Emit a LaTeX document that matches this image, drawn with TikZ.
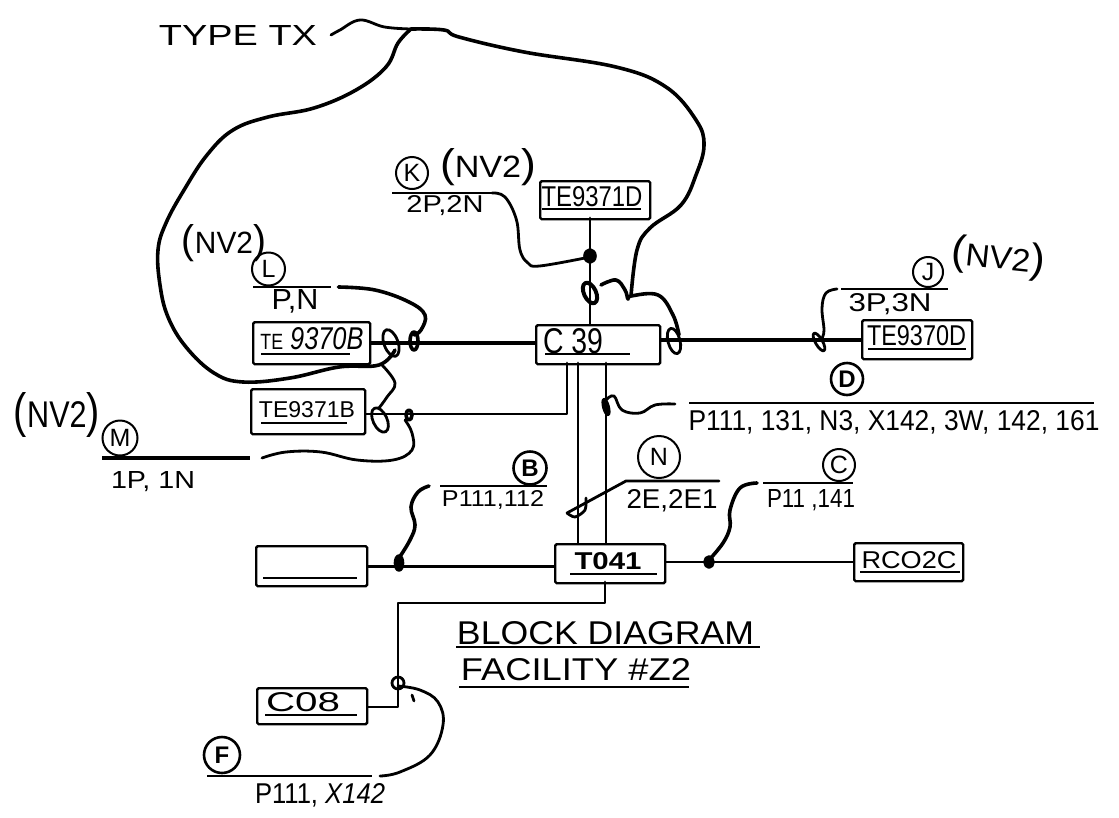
\documentclass[tikz,border=0pt]{standalone}
\usepackage{graphicx}
\usepackage{fontspec}
\setmainfont{Liberation Sans}
\newcommand{\fitlbl}[3]{\resizebox{#1pt}{#2pt}{\vphantom{H}#3}}
\newcommand{\nvtwo}{{\fontsize{13}{13}\selectfont(}NV2{\fontsize{13}{13}\selectfont)}}
\tikzset{
  x=1pt,y=-1pt,
  box/.style={draw=black,line width=2.4pt,rounded corners=1.5pt,inner sep=0pt,anchor=north west},
  lbl/.style={inner sep=0pt,text=black},
  circ/.style={draw=black,circle,line width=2pt,inner sep=0pt,minimum size=#1pt,font=\fontsize{25}{25}\selectfont},
  boldcirc/.style={circ=#1,line width=2.6pt,font=\bfseries\fontsize{24}{24}\selectfont},
  thick wire/.style={draw=black,line width=3.6pt,line cap=round,line join=round},
  wire/.style={draw=black,line width=2.8pt,line cap=round,line join=round},
  rule/.style={draw=black,line width=2.4pt},
  ul/.style={draw=black,line width=2.2pt},
  curve/.style={smooth,tension=0.65}
}
\begin{document}
\begin{tikzpicture}
\useasboundingbox (0,0) rectangle (1119,817);
% ---------- boxes
\node[box,minimum width=110pt,minimum height=38pt] (te71d) at (539,180) {};
\node[box,minimum width=124pt,minimum height=39pt] (c39) at (535,324) {};
\node[box,minimum width=110pt,minimum height=39pt] (te70d) at (861,319) {};
\node[box,minimum width=117pt,minimum height=42pt] (te70b) at (252,321) {};
\node[box,minimum width=114pt,minimum height=45pt] (te71b) at (250,388) {};
\node[box,minimum width=111pt,minimum height=40pt] (blank) at (255,545) {};
\node[box,minimum width=110pt,minimum height=39pt] (t041) at (554,543) {};
\node[box,minimum width=109pt,minimum height=38pt] (rco) at (853,542) {};
\node[box,minimum width=110pt,minimum height=36pt] (c08) at (256,687) {};
% ---------- box texts
\node[lbl] (tte71d) at (592,197) {\fitlbl{101}{20}{TE9371D}};
\node[lbl] (tc39) at (573,341) {\fitlbl{60}{25}{C 39}};
\node[lbl] (tte70d) at (916.5,336) {\fitlbl{99}{20}{TE9370D}};
\node[lbl] (tte70b) at (312,339) {\fitlbl{103}{22}{{\fontsize{7}{7}\selectfont TE} \textit{9370B}}};
\node[lbl] (tte71b) at (307,410) {\fitlbl{96}{16}{TE9371B}};
\node[lbl] (tt041) at (608,561) {\fitlbl{67}{17}{\textbf{T041}}};
\node[lbl] (trco) at (909,560) {\fitlbl{95}{17}{RCO2C}};
\node[lbl] (tc08) at (303,702) {\fitlbl{74}{19}{C08}};
% ---------- underlines inside boxes
\draw[ul] (542,209) -- (641,209);
\draw[ul] (545,354) -- (630,354);
\draw[ul] (868,349) -- (966,349);
\draw[ul] (261,354) -- (350,354);
\draw[ul] (261,423) -- (347,423);
\draw[ul] (263,578) -- (357,578);
\draw[ul] (570,574) -- (657,574);
\draw[ul] (860,572) -- (960,572);
\draw[ul] (265,715) -- (357,715);
% ---------- labels
\node[lbl] (ttype) at (238,35) {\fitlbl{158}{20}{TYPE TX}};
\node[lbl] (nvk) at (488,167) {\fitlbl{96}{29}{\nvtwo}};
\node[circ=32] (ck) at (412,173) {K};
\node[lbl] (t2p) at (445,206) {\fitlbl{77}{17}{2P,2N}};
\node[lbl] (nvl) at (224,243) {\fitlbl{84}{29}{\nvtwo}};
\node[circ=33] (cl) at (268.5,269) {L};
\node[lbl] (tpn) at (295,301) {\fitlbl{47}{20}{P,N}};
\node[lbl,rotate=-6] (nvj) at (998,258) {\fitlbl{94}{30}{\nvtwo}};
\node[circ=30] (cj) at (928,272) {J};
\node[lbl] (t3p) at (890,304) {\fitlbl{83}{18}{3P,3N}};
\node[boldcirc=32] (cd) at (847,379) {D};
\node[lbl] (tdd) at (894,422) {\fitlbl{411}{20}{P111, 131, N3, X142, 3W, 142, 161}};
\node[lbl] (nvm) at (57,415) {\fitlbl{86}{35}{\nvtwo}};
\node[circ=35] (cm) at (120,438) {M};
\node[lbl] (t1p) at (153,482) {\fitlbl{84}{17}{1P, 1N}};
\node[boldcirc=33] (cb) at (530,468) {B};
\node[lbl] (tb) at (493,500) {\fitlbl{102}{16}{P111,112}};
\node[circ=42] (cn) at (659,457) {N};
\node[lbl] (tn) at (672,501) {\fitlbl{91}{19}{2E,2E1}};
\node[circ=32] (cc) at (839,465) {C};
\node[lbl] (tc) at (811,500) {\fitlbl{88}{18}{P11 ,141}};
\node[lbl] (tblock) at (605.5,633) {\fitlbl{297}{23}{BLOCK DIAGRAM}};
\node[lbl] (tfac) at (576,670) {\fitlbl{230}{22}{FACILITY \#Z2}};
\node[boldcirc=36] (cf) at (222,755) {F};
\node[lbl] (tf) at (320,795) {\fitlbl{130}{20}{P111, \textit{X142}}};
% ---------- free ends
\coordinate (rk1) at (392,193); \coordinate (rk2) at (492,193);
\coordinate (rl1) at (253,287); \coordinate (rl2) at (331,287);
\coordinate (rj1) at (841,289); \coordinate (rj2) at (948,289);
\coordinate (rd1) at (689,403); \coordinate (rd2) at (1094,403);
\coordinate (rm1) at (102,458); \coordinate (rm2) at (250,458);
\coordinate (rb1) at (440,486); \coordinate (rb2) at (547,486);
\coordinate (rn2) at (719,481);
\coordinate (rc1) at (763,483); \coordinate (rc2) at (853,483);
\coordinate (rf1) at (207,776); \coordinate (rf2) at (372,776);
\coordinate (rbl1) at (456,647); \coordinate (rbl2) at (760,647);
\coordinate (rfa1) at (459,687); \coordinate (rfa2) at (689,687);
\foreach \a/\b in {rk1/rk2,rl1/rl2,rj1/rj2,rd1/rd2,rm1/rm2,rb1/rb2,rc1/rc2,rf1/rf2,rbl1/rbl2,rfa1/rfa2}
  \draw[rule] (\a) -- (\b);
\draw[rule,line width=3.4pt] (rm1) -- (rm2);
% ---------- straight connectors
\draw[thick wire] (te70b.east) -- (c39.west |- te70b.east);
\draw[wire] (590,218) -- (590,324);
\draw[thick wire] (c39.east |- 0,340) -- (te70d.west |- 0,340);
\draw[wire] (te71b.east |- 0,414) -- (567,414) -- (567,363);
\draw[wire] (578,363) -- (578,543);
\draw[wire] (606,363) -- (606,543);
\draw[wire] (blank.east) -- (t041.west |- blank.east);
\draw[wire] (t041.east |- 0,562) -- (rco.west |- 0,562);
\draw[wire] (605,582) -- (605,603) -- (398,603) -- (398,707) -- (c08.east |- 0,707);
% ---------- hand-drawn loops and blobs
\draw[thick wire,fill=black] (590,256) ellipse [x radius=5pt,y radius=6pt];
\draw[thick wire,line width=4pt,rotate around={25:(590,293)}] (590,293) ellipse [x radius=6pt,y radius=11pt];
\draw[wire,rotate around={15:(674,341)}] (674,341) ellipse [x radius=6pt,y radius=13pt];
\draw[wire,rotate around={30:(819,342)}] (819,342) ellipse [x radius=3.5pt,y radius=10pt];
\draw[wire,rotate around={20:(391,343)}] (391,343) ellipse [x radius=7pt,y radius=14pt];
\draw[thick wire] (414,341) ellipse [x radius=4pt,y radius=9pt];
\draw[wire,rotate around={25:(380,420)}] (380,420) ellipse [x radius=7pt,y radius=13pt];
\draw[thick wire] (409,415) ellipse [x radius=3pt,y radius=5pt];
\draw[wire,fill=black,rotate around={15:(606,407)}] (606,407) ellipse [x radius=2.5pt,y radius=8pt];
\draw[thick wire,fill=black] (399,563) ellipse [x radius=3.5pt,y radius=7pt];
\draw[thick wire,fill=black] (709,562) ellipse [x radius=4pt,y radius=5pt];
\draw[wire] (398,683) ellipse [x radius=6pt,y radius=6pt];
\draw[wire] (412,695) -- (414,701);
% ---------- curved wires
\draw[wire] plot[curve] coordinates {(331,35) (340,30) (360,20) (384.5,27) (411,29)};
\draw[thick wire] plot[curve] coordinates {(411,29) (398,43) (386,67) (356,90) (314,108) (268,117) (233,130) (207,155) (184,190) (166,223) (158,250) (160,285) (168,317) (186,347) (214,373) (243,382) (290,378) (339,367) (379,365) (395,350)};
\draw[thick wire] plot[curve] coordinates {(411,29) (444,30) (459,37) (524,52) (616,67) (666,87) (696,120) (704,145) (696,175) (681,205) (650,228) (637,250) (631,296)};
\draw[thick wire] plot[curve] coordinates {(601,285) (616,280) (625,290) (628,299) (631,296) (658,295) (673,315) (679,335)};
\draw[wire] plot[curve] coordinates {(492,193) (505,197) (516.5,220) (520,250) (528,263) (539.5,266) (585,258)};
\draw[wire] plot[curve] coordinates {(837,289) (826,293) (822,308) (824,330) (822,338)};
\draw[thick wire] plot[curve] coordinates {(338.5,287) (375,290) (409,302) (425,315) (421,330) (414,335)};
\draw[wire] plot[curve] coordinates {(382,365) (395,383) (387,397) (379,408)};
\draw[wire] plot[curve] coordinates {(262,458) (286,452) (321,452) (357,460) (393,460) (412,450) (412,433) (405,420)};
\draw[wire] plot[curve] coordinates {(606,400) (614,396) (622,410) (640,413) (655,405) (675,404)};
\draw[wire] plot[smooth,tension=0.5] coordinates {(586,498) (585,510) (575,517) (567,513)};
\draw[wire] (567,513) -- (626,481) -- (rn2);
\draw[thick wire] plot[curve] coordinates {(399,558) (410,540) (415,525) (411,507) (418,492) (429,486)};
\draw[thick wire] plot[curve] coordinates {(709,560) (723,543) (730,527) (730,510) (740,488) (757,483)};
\draw[wire] plot[curve] coordinates {(398,686) (420,690) (438,702) (443,725) (430,755) (400,772) (380,776)};
\end{tikzpicture}
\end{document}
